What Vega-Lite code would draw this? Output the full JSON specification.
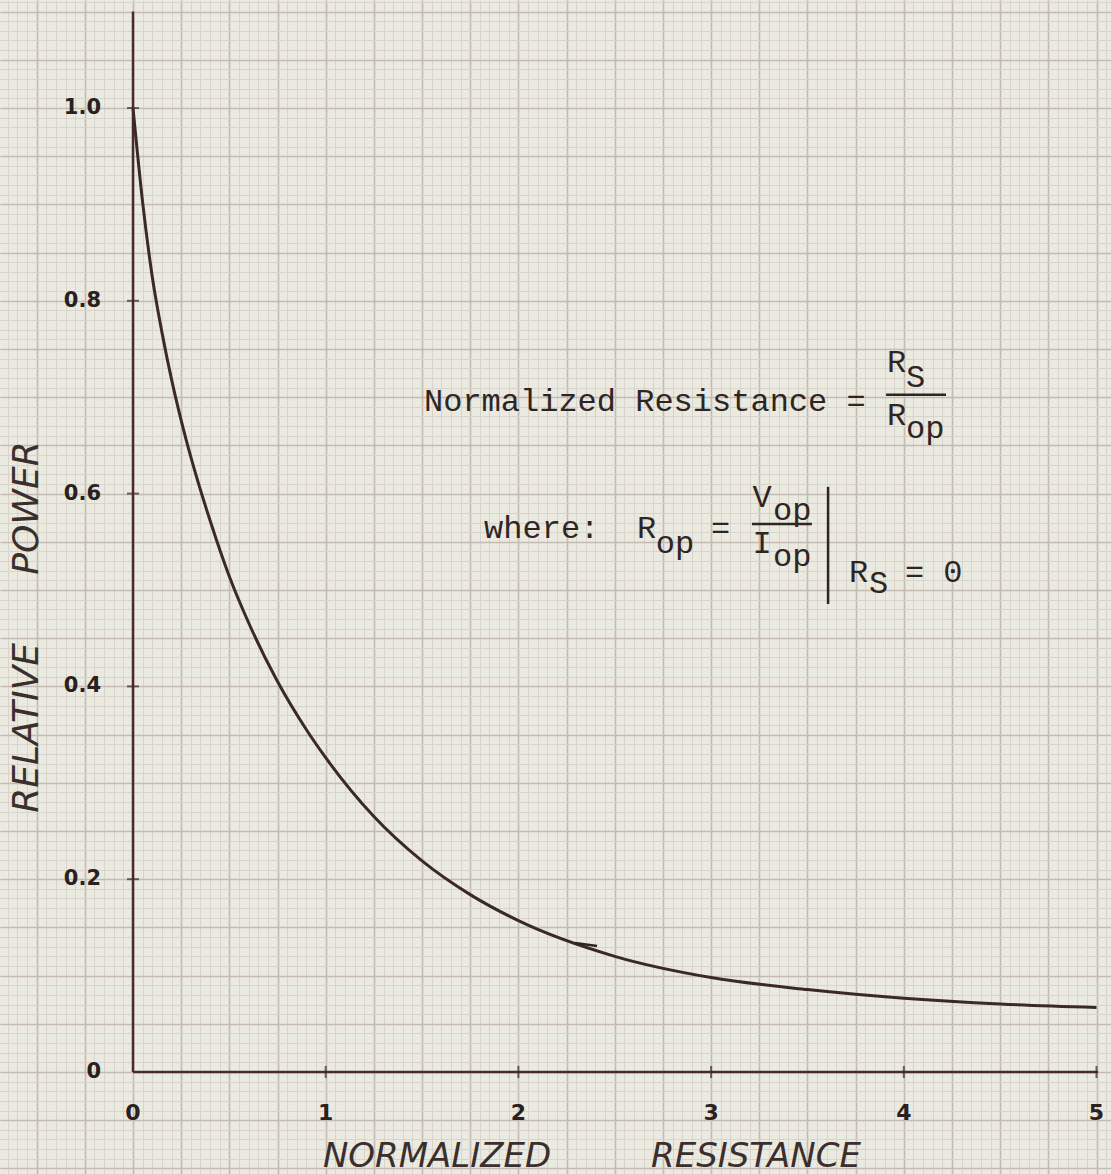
{
  "$schema": "https://vega.github.io/schema/vega-lite/v6.json",
  "width": 1111,
  "height": 1174,
  "autosize": {"type": "none"},
  "padding": 0,
  "background": "#eaeae1",
  "config": {"view": {"stroke": null, "fill": "#eaeae1"}},
  "datasets": {
    "one": [{"k": 1}],
    "curve": [
      {"x": 0, "y": 1.0}, {"x": 0.05, "y": 0.902}, {"x": 0.1, "y": 0.825}, {"x": 0.15, "y": 0.7675},
      {"x": 0.2, "y": 0.7185}, {"x": 0.25, "y": 0.676}, {"x": 0.3, "y": 0.638}, {"x": 0.4, "y": 0.572},
      {"x": 0.5, "y": 0.514}, {"x": 0.6, "y": 0.466}, {"x": 0.75, "y": 0.405}, {"x": 0.9, "y": 0.355},
      {"x": 1.0, "y": 0.326}, {"x": 1.25, "y": 0.265}, {"x": 1.5, "y": 0.219}, {"x": 1.75, "y": 0.184},
      {"x": 2.0, "y": 0.157}, {"x": 2.5, "y": 0.12}, {"x": 3.0, "y": 0.098}, {"x": 3.5, "y": 0.0855},
      {"x": 4.0, "y": 0.0765}, {"x": 4.5, "y": 0.0705}, {"x": 5.0, "y": 0.067}
    ],
    "ylab": [
      {"v": 0, "t": "0"}, {"v": 0.2, "t": "0.2"}, {"v": 0.4, "t": "0.4"},
      {"v": 0.6, "t": "0.6"}, {"v": 0.8, "t": "0.8"}, {"v": 1.0, "t": "1.0"}
    ],
    "xlab": [
      {"v": 0, "t": "0"}, {"v": 1, "t": "1"}, {"v": 2, "t": "2"},
      {"v": 3, "t": "3"}, {"v": 4, "t": "4"}, {"v": 5, "t": "5"}
    ],
    "notes": [
      {"x": 1.510, "y": 0.6857, "t": "Normalized Resistance ="},
      {"x": 3.913, "y": 0.7261, "t": "R"},
      {"x": 4.011, "y": 0.7105, "t": "S"},
      {"x": 3.913, "y": 0.6712, "t": "R"},
      {"x": 4.011, "y": 0.6577, "t": "op"},
      {"x": 1.822, "y": 0.5539, "t": "where:"},
      {"x": 2.615, "y": 0.5539, "t": "R"},
      {"x": 2.713, "y": 0.5384, "t": "op"},
      {"x": 3.0, "y": 0.5539, "t": "="},
      {"x": 3.215, "y": 0.5861, "t": "V"},
      {"x": 3.321, "y": 0.5726, "t": "op"},
      {"x": 3.215, "y": 0.5385, "t": "I"},
      {"x": 3.321, "y": 0.5250, "t": "op"},
      {"x": 3.716, "y": 0.5085, "t": "R"},
      {"x": 3.819, "y": 0.4970, "t": "S"},
      {"x": 4.006, "y": 0.5085, "t": "= 0"}
    ],
    "strokes": [
      {"x": 3.908, "x2": 4.219, "y": 0.7024, "y2": 0.7024},
      {"x": 3.212, "x2": 3.523, "y": 0.5685, "y2": 0.5685},
      {"x": 3.607, "x2": 3.607, "y": 0.607, "y2": 0.4855},
      {"x": 2.294, "x2": 2.408, "y": 0.1338, "y2": 0.1307}
    ]
  },
  "resolve": {"axis": {"x": "independent", "y": "independent"}},
  "layer": [
    {
      "data": {"name": "curve"},
      "mark": {"type": "point", "opacity": 0},
      "encoding": {
        "x": {"field": "x", "type": "quantitative",
          "scale": {"domain": [-0.6902, 5.0752], "nice": false, "zero": false},
          "axis": {"orient": "bottom", "grid": true, "tickCount": 116, "labels": false, "ticks": false, "domain": false, "title": null, "gridColor": "#d9d4cb", "gridWidth": 1}},
        "y": {"field": "y", "type": "quantitative",
          "scale": {"domain": [-0.1058, 1.112], "nice": false, "zero": false},
          "axis": {"orient": "left", "grid": true, "tickCount": 122, "labels": false, "ticks": false, "domain": false, "title": null, "gridColor": "#d9d4cb", "gridWidth": 1}}
      }
    },
    {
      "data": {"name": "curve"},
      "mark": {"type": "point", "opacity": 0},
      "encoding": {
        "x": {"field": "x", "type": "quantitative",
          "axis": {"orient": "top", "grid": true, "values": [-0.5, -0.25, 0, 0.25, 0.5, 0.75, 1, 1.25, 1.5, 1.75, 2, 2.25, 2.5, 2.75, 3, 3.25, 3.5, 3.75, 4, 4.25, 4.5, 4.75, 5], "labels": false, "ticks": false, "domain": false, "title": null, "gridColor": "#c4bab2", "gridWidth": 1.6}},
        "y": {"field": "y", "type": "quantitative",
          "axis": {"orient": "right", "grid": true, "tickCount": 24, "labels": false, "ticks": false, "domain": false, "title": null, "gridColor": "#c4bab2", "gridWidth": 1.6}}
      }
    },
    {
      "data": {"name": "one"},
      "mark": {"type": "rule", "color": "#4a2b2b", "strokeWidth": 2.5},
      "encoding": {
        "x": {"datum": 0, "type": "quantitative", "axis": null},
        "y": {"datum": 0, "type": "quantitative", "axis": null},
        "y2": {"datum": 1.1}
      }
    },
    {
      "data": {"name": "one"},
      "mark": {"type": "rule", "color": "#4a2b2b", "strokeWidth": 2.5},
      "encoding": {
        "x": {"datum": 0, "type": "quantitative", "axis": null},
        "x2": {"datum": 5.008},
        "y": {"datum": 0, "type": "quantitative", "axis": null}
      }
    },
    {
      "data": {"name": "ylab"},
      "transform": [{"filter": "datum.v > 0"}],
      "mark": {"type": "tick", "orient": "horizontal", "size": 12, "thickness": 2, "color": "#3a2626"},
      "encoding": {
        "x": {"datum": 0, "type": "quantitative", "axis": null},
        "y": {"field": "v", "type": "quantitative", "axis": null}
      }
    },
    {
      "data": {"name": "xlab"},
      "transform": [{"filter": "datum.v > 0"}],
      "mark": {"type": "tick", "orient": "vertical", "size": 12, "thickness": 2, "color": "#3a2626"},
      "encoding": {
        "x": {"field": "v", "type": "quantitative", "axis": null},
        "y": {"datum": 0, "type": "quantitative", "axis": null}
      }
    },
    {
      "data": {"name": "curve"},
      "mark": {"type": "line", "color": "#3b2926", "strokeWidth": 3, "interpolate": "monotone"},
      "encoding": {
        "x": {"field": "x", "type": "quantitative", "axis": null},
        "y": {"field": "y", "type": "quantitative", "axis": null}
      }
    },
    {
      "data": {"name": "ylab"},
      "mark": {"type": "text", "align": "right", "baseline": "middle", "font": "DejaVu Sans", "fontWeight": "bold", "fontSize": 21, "color": "#2a201e"},
      "encoding": {
        "x": {"datum": -0.166, "type": "quantitative", "axis": null},
        "y": {"field": "v", "type": "quantitative", "axis": null},
        "text": {"field": "t"}
      }
    },
    {
      "data": {"name": "xlab"},
      "mark": {"type": "text", "align": "center", "baseline": "middle", "font": "DejaVu Sans", "fontWeight": "bold", "fontSize": 22, "color": "#2a201e"},
      "encoding": {
        "x": {"field": "v", "type": "quantitative", "axis": null},
        "y": {"datum": -0.0425, "type": "quantitative", "axis": null},
        "text": {"field": "t"}
      }
    },
    {
      "data": {"name": "one"},
      "mark": {"type": "text", "align": "center", "baseline": "middle", "font": "DejaVu Sans", "fontStyle": "italic", "fontSize": 34, "color": "#3a2f2c"},
      "encoding": {
        "x": {"datum": 1.578, "type": "quantitative", "axis": null},
        "y": {"datum": -0.0882, "type": "quantitative", "axis": null},
        "text": {"value": "NORMALIZED"}
      }
    },
    {
      "data": {"name": "one"},
      "mark": {"type": "text", "align": "center", "baseline": "middle", "font": "DejaVu Sans", "fontStyle": "italic", "fontSize": 34, "color": "#3a2f2c"},
      "encoding": {
        "x": {"datum": 3.233, "type": "quantitative", "axis": null},
        "y": {"datum": -0.0882, "type": "quantitative", "axis": null},
        "text": {"value": "RESISTANCE"}
      }
    },
    {
      "data": {"name": "one"},
      "mark": {"type": "text", "align": "center", "baseline": "middle", "angle": 270, "font": "DejaVu Sans", "fontStyle": "italic", "fontSize": 36, "color": "#3a2f2c"},
      "encoding": {
        "x": {"datum": -0.55, "type": "quantitative", "axis": null},
        "y": {"datum": 0.357, "type": "quantitative", "axis": null},
        "text": {"value": "RELATIVE"}
      }
    },
    {
      "data": {"name": "one"},
      "mark": {"type": "text", "align": "center", "baseline": "middle", "angle": 270, "font": "DejaVu Sans", "fontStyle": "italic", "fontSize": 36, "color": "#3a2f2c"},
      "encoding": {
        "x": {"datum": -0.55, "type": "quantitative", "axis": null},
        "y": {"datum": 0.585, "type": "quantitative", "axis": null},
        "text": {"value": "POWER"}
      }
    },
    {
      "data": {"name": "notes"},
      "mark": {"type": "text", "align": "left", "baseline": "alphabetic", "font": "Liberation Mono", "fontSize": 32, "color": "#2e2523"},
      "encoding": {
        "x": {"field": "x", "type": "quantitative", "axis": null},
        "y": {"field": "y", "type": "quantitative", "axis": null},
        "text": {"field": "t"}
      }
    },
    {
      "data": {"name": "strokes"},
      "mark": {"type": "rule", "color": "#2e2523", "strokeWidth": 2.5},
      "encoding": {
        "x": {"field": "x", "type": "quantitative", "axis": null},
        "x2": {"field": "x2"},
        "y": {"field": "y", "type": "quantitative", "axis": null},
        "y2": {"field": "y2"}
      }
    }
  ]
}
